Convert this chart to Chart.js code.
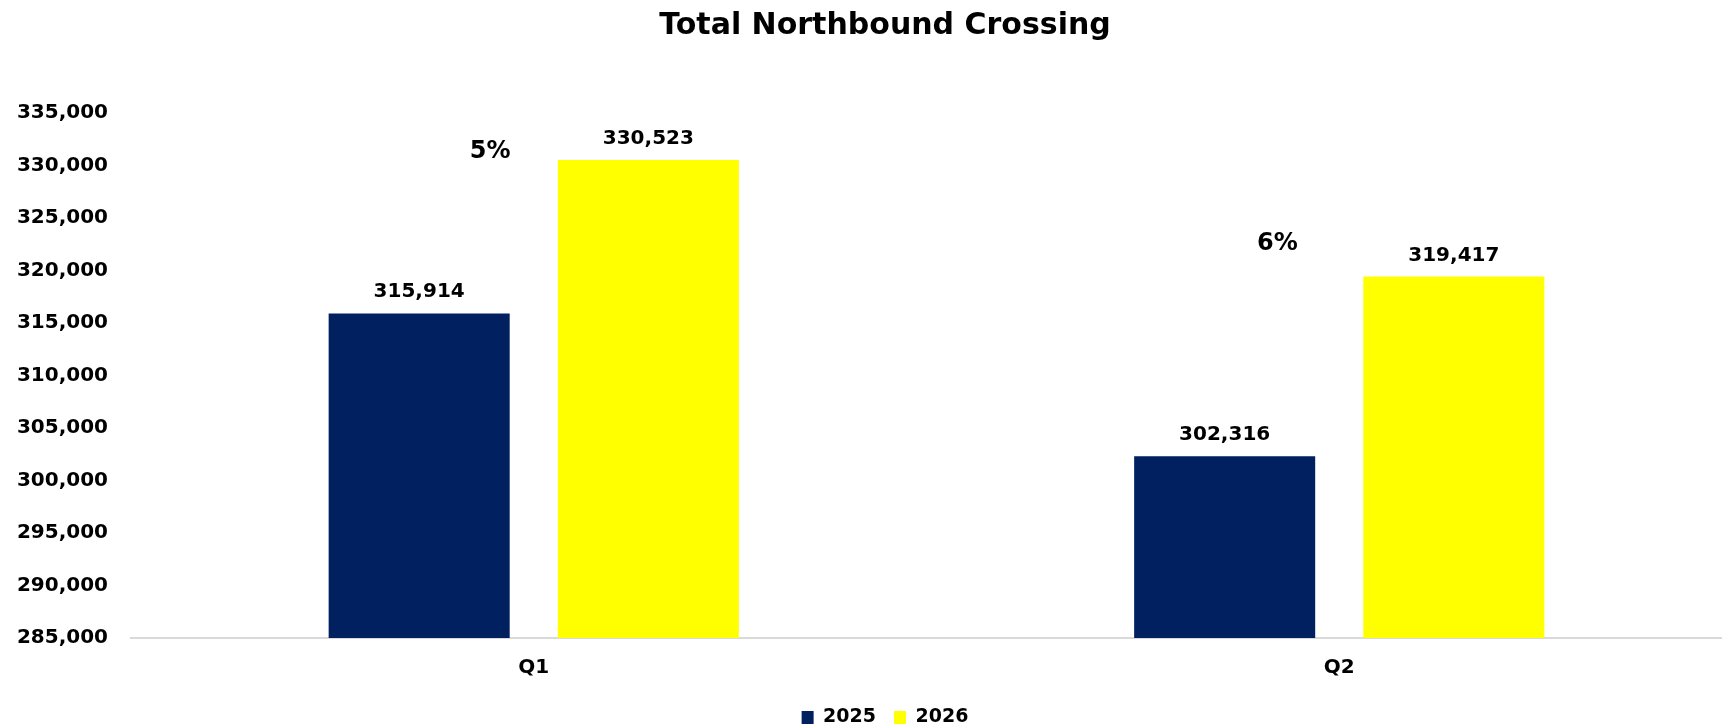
<!DOCTYPE html>
<html>
<head>
<meta charset="utf-8">
<title>Total Northbound Crossing</title>
<script src="https://cdn.jsdelivr.net/npm/chart.js@4.4.1/dist/chart.umd.min.js"></script>
<style>
    html, body { margin: 0; padding: 0; background: #fff; overflow: hidden; }
    /* plot runs a bit past the window edge, like the original */
    #wrap { width: 1770px; height: 727px; position: relative; }
</style>
</head>
<body>
<div id="wrap"><canvas id="chart"></canvas></div>
<script>
// Data
const quarters = ['Q1', 'Q2'];
const years = ['2025', '2026'];
const crossings2025 = [315914, 302316];
const crossings2026 = [330523, 319417];
const yMin = 285000;
const yMax = 335000;
const yStep = 5000;

// Colours
const NAVY = '#002060';
const YELLOW = '#FFFF00';

const fmt = v => v.toLocaleString('en-US');

// Draw value labels above bars + the YoY change labels
const valueLabels = {
    id: 'valueLabels',
    afterDatasetsDraw(chart, args, opts) {
        const ctx = chart.ctx;
        ctx.save();
        ctx.fillStyle = '#000';
        ctx.textAlign = 'center';

        ctx.font = 'bold 20px "DejaVu Sans"';
        ctx.textBaseline = 'alphabetic';
        chart.data.datasets.forEach((ds, i) => {
            chart.getDatasetMeta(i).data.forEach((bar, j) => {
                ctx.fillText(fmt(ds.data[j]), bar.x, bar.y - 16);
            });
        });

        // change labels, placed between the two bars of each quarter
        const a = chart.getDatasetMeta(0).data;
        const b = chart.getDatasetMeta(1).data;
        const yScale = chart.scales.y;
        ctx.font = 'bold 24px "DejaVu Sans"';
        ctx.textBaseline = 'middle';
        quarters.forEach((q, j) => {
            const pct = Math.round((crossings2026[j] - crossings2025[j]) / crossings2025[j] * 100);
            const x = a[j].x + opts.shift[j] * (b[j].x - a[j].x);
            const y = yScale.getPixelForValue(opts.anchor[j]);
            ctx.fillText(pct + '%', x, y);
        });
        ctx.restore();
    }
};

Chart.defaults.font.family = '"DejaVu Sans", sans-serif';
Chart.defaults.color = '#000';

new Chart(document.getElementById('chart'), {
    type: 'bar',
    data: {
        labels: quarters,
        datasets: [
            { label: years[0], data: crossings2025, backgroundColor: NAVY },
            { label: years[1], data: crossings2026, backgroundColor: YELLOW }
        ]
    },
    options: {
        responsive: true,
        maintainAspectRatio: false,
        animation: false,
        categoryPercentage: 0.569,
        barPercentage: 0.79,
        layout: { padding: { left: 0, right: 0, top: 0, bottom: -10 } },
        plugins: {
            title: {
                display: true,
                text: 'Total Northbound Crossing',
                color: '#000',
                font: { size: 30, weight: 'bold' },
                padding: { top: 8, bottom: 69 }
            },
            legend: {
                position: 'bottom',
                labels: {
                    boxWidth: 12,
                    boxHeight: 13,
                    padding: 18,
                    color: '#000',
                    font: { size: 19, weight: 'bold' }
                }
            },
            tooltip: { enabled: false },
            valueLabels: {
                shift: [0.31, 0.23],
                anchor: [331300, 322500]
            }
        },
        scales: {
            x: {
                grid: { display: false },
                border: { display: true, color: '#d9d9d9', width: 2 },
                ticks: { font: { size: 20, weight: 'bold' }, padding: 10 }
            },
            y: {
                min: yMin,
                max: yMax,
                grid: { display: false, drawTicks: false },
                border: { display: false },
                ticks: {
                    stepSize: yStep,
                    padding: 23,
                    font: { size: 20, weight: 'bold' },
                    callback: v => fmt(v)
                },
                afterFit: s => { s.width = 131; }
            },
            // empty spacer so the plot can run off the right edge
            pad: {
                position: 'right',
                grid: { display: false },
                border: { display: false },
                ticks: { display: false },
                afterFit: s => { s.width = 28; }
            }
        }
    },
    plugins: [valueLabels]
});
</script>
</body>
</html>
